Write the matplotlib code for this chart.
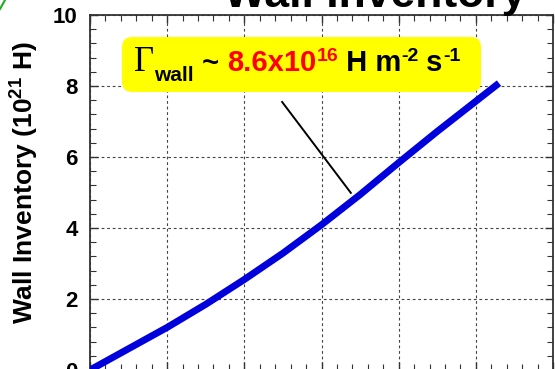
import matplotlib
matplotlib.use('Agg')
import matplotlib.pyplot as plt
from matplotlib.ticker import MultipleLocator, AutoMinorLocator
from matplotlib.patches import FancyBboxPatch
from matplotlib.lines import Line2D
from matplotlib.transforms import IdentityTransform

plt.rcParams['font.family'] = ['Liberation Sans', 'DejaVu Sans']
plt.rcParams['mathtext.fontset'] = 'custom'
plt.rcParams['mathtext.rm'] = 'Liberation Sans'
plt.rcParams['mathtext.bf'] = 'Liberation Sans:bold'

# wall inventory (1e21 H) vs time
time = [0, 0.5, 1.0, 1.5, 2.0, 2.5, 3.0, 3.5, 4.0, 4.5, 5.0, 5.3]
inventory = [0, 0.6, 1.2, 1.85, 2.55, 3.29, 4.09, 4.94, 5.84, 6.72, 7.57, 8.08]

flux_label = ['\u0393', 'wall', ' ~ ', '8.6x10', '16', ' H m', '-2', ' s', '-1']

W, H = 555, 369
fig = plt.figure(figsize=(W / 100, H / 100), dpi=100)
ax = fig.add_axes([90 / W, (H - 370) / H, 463 / W, 355 / H])

ax.plot(time, inventory, color='#0000dd', lw=5, solid_capstyle='butt', zorder=3)

ax.set_xlim(0, 6)
ax.set_ylim(0, 10)
ax.xaxis.set_major_locator(MultipleLocator(1))
ax.xaxis.set_minor_locator(AutoMinorLocator(5))
ax.yaxis.set_major_locator(MultipleLocator(2))
ax.yaxis.set_minor_locator(AutoMinorLocator(5))
ax.tick_params(which='both', direction='in', top=True, right=True, color='#333333')
ax.tick_params(which='major', length=6, width=1)
ax.tick_params(which='minor', length=4, width=0.8)
ax.tick_params(axis='y', labelsize=16, pad=9)
for lab in ax.get_yticklabels():
    lab.set_fontweight('bold')
ax.set_xticklabels([])
ax.grid(True, which='major', color='#444444', linestyle=(0, (2.5, 2.5)), lw=0.8)
for sp in ax.spines.values():
    sp.set_color('#333333')
    sp.set_linewidth(1.3)

ax.set_ylabel('Wall Inventory (10$^{\\mathbf{21}}$ H)', fontsize=19, fontweight='bold')
ax.yaxis.set_label_coords(-0.108, 0.527)

fig.text(375 / W, 1 - 7 / H, 'Wall Inventory', fontsize=32, fontweight='bold',
         ha='center', va='baseline')

# small green mark in the top-left corner
fig.add_artist(Line2D([0, 5 / W], [1 - 9 / H, 1.0], color='#22aa22', lw=1.5))

# yellow flux box
x0, x1 = (122 - 90) / 463, (481 - 90) / 463
y0, y1 = (370 - 92) / 355, (370 - 37) / 355
box = FancyBboxPatch((x0, y0), x1 - x0, y1 - y0, transform=ax.transAxes,
                     boxstyle='round,pad=0,rounding_size=0.022',
                     mutation_aspect=463 / 355, fc='#ffff00', ec='none', zorder=4)
ax.add_patch(box)

# pointer line from the box to the curve
ax.plot([2.49, 3.38], [7.55, 4.99], color='black', lw=1.4, zorder=2)

# flux label drawn piece by piece
renderer = fig.canvas.get_renderer()
styles = [
    dict(fontsize=25, family='Liberation Serif', dy=0),
    dict(fontsize=15, fontweight='bold', dy=-10),
    dict(fontsize=21, fontweight='bold', dy=0),
    dict(fontsize=21, fontweight='bold', color='red', dy=0),
    dict(fontsize=14, fontweight='bold', color='red', dy=10),
    dict(fontsize=21, fontweight='bold', dy=0),
    dict(fontsize=14, fontweight='bold', dy=10),
    dict(fontsize=21, fontweight='bold', dy=0),
    dict(fontsize=14, fontweight='bold', dy=10),
]
cx = 134
base = H - 71
for s, st in zip(flux_label, styles):
    st = dict(st)
    dy = st.pop('dy')
    t = fig.text(cx, base + dy, s, transform=IdentityTransform(), va='baseline',
                 ha='left', zorder=5, **st)
    cx += t.get_window_extent(renderer).width

fig.savefig('out.png', dpi=100)
